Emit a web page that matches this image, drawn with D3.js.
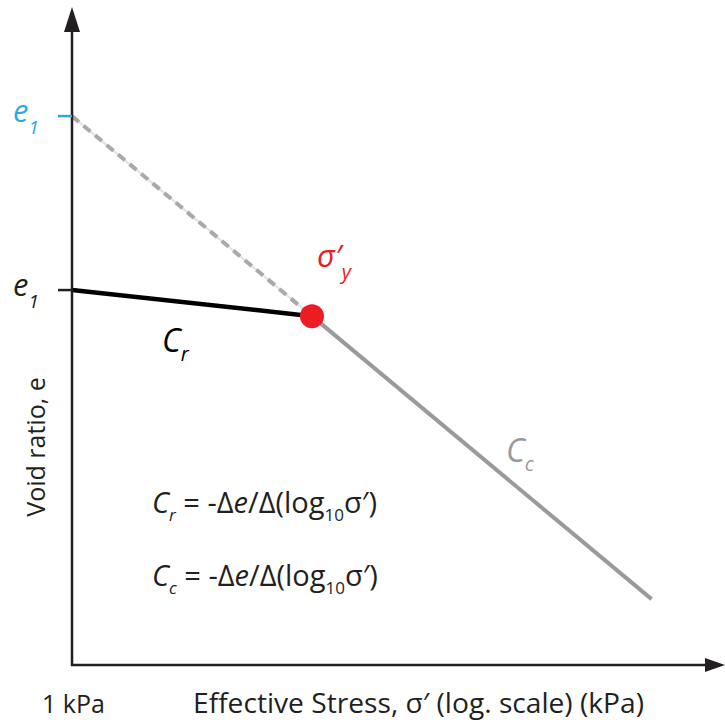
<!DOCTYPE html>
<html><head><meta charset="utf-8">
<script src="https://cdn.jsdelivr.net/npm/d3@7"></script>
<style>body{margin:0;background:#fff}svg{display:block}text{font-family:"Open Sans","Noto Sans",sans-serif}</style>
</head><body>
<script>
// Data (schematic consolidation curve)
const stressDomain = [1, 511];          // kPa, log scale
const voidDomain = [0.0534, 1.183];     // void ratio
const recompression = [{s:1, e:0.70}, {s:10, e:0.655}];   // Cr line
const virginExtrap = [{s:1, e:1.00}, {s:10, e:0.655}];    // dashed extrapolation
const virgin = [{s:10, e:0.655}, {s:260, e:0.167}];       // Cc line
const yieldPoint = {s:10, e:0.655};
const eTicks = [{e:1.00, color:"#29abe2"}, {e:0.70, color:"#231f20"}];
const xLabel = "Effective Stress, σ′ (log. scale) (kPa)";
const yLabel = "Void ratio, e";
const originLabel = "1 kPa";

const W = 725, H = 722;
const svg = d3.select("body").append("svg").attr("width", W).attr("height", H);
const x = d3.scaleLog().domain(stressDomain).range([72, 722]);
const y = d3.scaleLinear().domain(voidDomain).range([665, 10]);
const line = d3.line().x(d => x(d.s)).y(d => y(d.e));

// dashed extrapolation
svg.append("path").datum(virginExtrap).attr("d", line).attr("fill","none")
  .attr("stroke","#e2e2e2").attr("stroke-width",2);
svg.append("path").datum(virginExtrap).attr("d", line).attr("fill","none")
  .attr("stroke","#a7a9ac").attr("stroke-width",4).attr("stroke-dasharray","9,6");
// virgin line
svg.append("path").datum(virgin).attr("d", line).attr("fill","none")
  .attr("stroke","#999a9c").attr("stroke-width",4);
// recompression
svg.append("path").datum(recompression).attr("d", line).attr("fill","none")
  .attr("stroke","#000").attr("stroke-width",4.5);

// axes
const ax = "#231f20";
svg.append("line").attr("x1", x(1)).attr("x2", x(1)).attr("y1", y(voidDomain[0])+1).attr("y2", 26)
  .attr("stroke", ax).attr("stroke-width", 2.5);
svg.append("path").attr("d", `M${x(1)},7 L${x(1)-8},32 L${x(1)+8},32 Z`).attr("fill", ax);
svg.append("line").attr("x1", x(1)-1).attr("x2", 710).attr("y1", y(voidDomain[0])).attr("y2", y(voidDomain[0]))
  .attr("stroke", ax).attr("stroke-width", 2.5);
svg.append("path").attr("d", `M725,${y(voidDomain[0])} L705,${y(voidDomain[0])-7} L705,${y(voidDomain[0])+7} Z`).attr("fill", ax);

// e ticks
eTicks.forEach((t) => {
  svg.append("line").attr("x1", x(1)-14).attr("x2", x(1)).attr("y1", y(t.e)).attr("y2", y(t.e))
    .attr("stroke", t.color).attr("stroke-width", 2.5);
  const tx = svg.append("text").attr("x", 13).attr("y", y(t.e)+6).attr("fill", t.color)
    .attr("font-size", 31).attr("font-style","italic");
  tx.append("tspan").text("e");
  tx.append("tspan").attr("dy", 12).attr("font-size", 19).text("1");
});

// yield point
svg.append("circle").attr("cx", x(yieldPoint.s)).attr("cy", y(yieldPoint.e)).attr("r", 12).attr("fill", "#ed1c24");
const sy = svg.append("text").attr("x", x(yieldPoint.s)+5).attr("y", y(yieldPoint.e)-49).attr("fill","#ed1c24")
  .attr("font-size", 31).attr("font-style","italic");
sy.append("tspan").text("σ′");
sy.append("tspan").attr("dy", 12).attr("font-size", 20).text("y");

// Cr label
const cr = svg.append("text").attr("x", 162).attr("y", 352).attr("fill","#000").attr("font-size", 32).attr("font-style","italic");
cr.append("tspan").text("C");
cr.append("tspan").attr("dy", 9).attr("font-size", 20).text("r");
// Cc label
const cc = svg.append("text").attr("x", 506).attr("y", 462).attr("fill","#999a9c").attr("font-size", 32).attr("font-style","italic");
cc.append("tspan").text("C");
cc.append("tspan").attr("dy", 9).attr("font-size", 20).text("c");

// formulas
[["r", 513], ["c", 586]].forEach(([sub, by]) => {
  const t = svg.append("text").attr("x", 152).attr("y", by).attr("fill", ax).attr("font-size", 29)
    .attr("xml:space", "preserve").style("white-space", "pre");
  t.append("tspan").attr("font-style","italic").text("C");
  t.append("tspan").attr("dy", 8).attr("font-size", 17).attr("font-style","italic").text(sub);
  t.append("tspan").attr("dy", -8).text(" = -Δ");
  t.append("tspan").attr("font-style","italic").text("e");
  t.append("tspan").text("/Δ(log");
  t.append("tspan").attr("dy", 8).attr("font-size", 17).text("10");
  t.append("tspan").attr("dy", -8).text("σ′)");
});

// axis labels
svg.append("text").attr("x", 42).attr("y", 713).attr("font-size", 25).attr("fill", ax).text(originLabel);
svg.append("text").attr("x", 193).attr("y", 713).attr("font-size", 28).attr("fill", ax)
  .attr("textLength", 451).attr("lengthAdjust", "spacingAndGlyphs").text(xLabel);
svg.append("text").attr("transform", "translate(45,447) rotate(-90)").attr("text-anchor","middle")
  .attr("font-size", 25).attr("fill", ax).text(yLabel);
</script>
</body></html>
